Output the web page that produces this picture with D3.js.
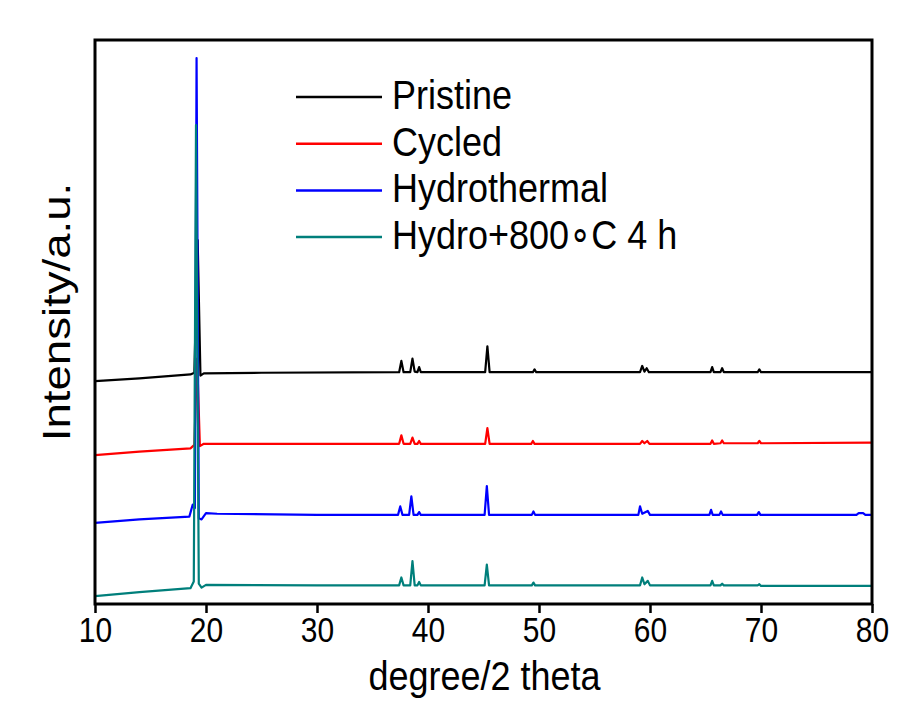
<!DOCTYPE html>
<html>
<head>
<meta charset="utf-8">
<script src="https://cdn.jsdelivr.net/npm/d3@7"></script>
<style>
  body { margin: 0; background: #fff; }
  text { font-family: "Liberation Sans", Arial, sans-serif; fill: #000; }
  .narrow { font-family: "Liberation Sans Narrow", "Arial Narrow", "Liberation Sans", sans-serif; }
</style>
</head>
<body>
<div id="chart"></div>
<script>
const width = 909;
const height = 703;
const margin = { top: 40, right: 37, bottom: 99, left: 95 };

const seriesNames = ["Pristine", "Cycled", "Hydrothermal", "Hydro+800\u2218C 4 h"];
const seriesColors = ["#000000", "#ff0000", "#0000ff", "#007f7b"];
const xTicks = [10, 20, 30, 40, 50, 60, 70, 80];

// [2theta, intensity (a.u., stacked offsets)]
const pristine = [
  [10, 39.5], [14, 40.0], [18.6, 40.7], [18.95, 41.0], [19.25, 64.5], [19.5, 40.5],
  [19.8, 40.9], [25, 41.0], [37.4, 41.1], [37.6, 43.1], [37.8, 41.1], [38.4, 41.1],
  [38.6, 43.5], [38.8, 41.2], [39.05, 41.1], [39.2, 42.0], [39.35, 41.1], [45.15, 41.1],
  [45.35, 45.7], [45.55, 41.1], [49.45, 41.1], [49.6, 41.6], [49.75, 41.1], [59.1, 41.1],
  [59.3, 42.2], [59.5, 41.2], [59.7, 41.8], [59.9, 41.1], [65.45, 41.1], [65.6, 42.0],
  [65.75, 41.1], [66.35, 41.1], [66.5, 41.8], [66.65, 41.1], [69.7, 41.1], [69.85, 41.6],
  [70.0, 41.1], [80, 41.1]
];
const cycled = [
  [10, 26.4], [14, 27.0], [18.6, 27.6], [18.95, 28.2], [19.2, 43.5], [19.45, 28.0],
  [19.8, 28.4], [25, 28.4], [37.4, 28.4], [37.6, 29.9], [37.8, 28.4], [38.4, 28.4],
  [38.6, 29.5], [38.8, 28.4], [39.05, 28.4], [39.2, 28.9], [39.35, 28.4], [45.15, 28.4],
  [45.35, 31.2], [45.55, 28.4], [49.3, 28.4], [49.45, 28.9], [49.6, 28.4], [59.1, 28.4],
  [59.3, 28.9], [59.5, 28.5], [59.75, 28.9], [59.95, 28.4], [65.45, 28.4], [65.6, 29.0],
  [65.75, 28.4], [66.35, 28.5], [66.5, 29.0], [66.65, 28.5], [69.7, 28.5], [69.85, 28.9],
  [70.0, 28.5], [80, 28.6]
];
const hydrothermal = [
  [10, 14.4], [14, 15.0], [18.5, 15.5], [18.8, 17.6], [19.0, 17.0], [19.15, 96.8],
  [19.35, 15.2], [19.6, 15.0], [20.0, 16.1], [21, 16.0], [30, 15.8], [37.3, 15.8],
  [37.5, 17.3], [37.7, 15.8], [38.3, 15.8], [38.5, 19.1], [38.7, 15.8], [39.05, 15.8],
  [39.2, 16.3], [39.35, 15.8], [45.1, 15.8], [45.3, 20.9], [45.5, 15.8], [49.35, 15.8],
  [49.5, 16.4], [49.65, 15.8], [58.95, 15.8], [59.1, 17.3], [59.3, 16.0], [59.8, 16.5],
  [60.0, 15.8], [65.35, 15.8], [65.5, 16.7], [65.65, 15.8], [66.25, 15.8], [66.4, 16.4],
  [66.55, 15.8], [69.65, 15.8], [69.8, 16.3], [69.95, 15.8], [78.6, 15.8], [78.8, 16.1],
  [79.2, 16.1], [79.4, 15.8], [80, 15.8]
];
const hydro800 = [
  [10, 1.4], [14, 2.1], [18.6, 2.8], [18.9, 4.0], [19.1, 84.9], [19.35, 3.6],
  [19.6, 2.9], [20, 3.4], [30, 3.3], [37.4, 3.3], [37.6, 4.7], [37.8, 3.3],
  [38.4, 3.3], [38.6, 7.6], [38.8, 3.3], [39.05, 3.3], [39.2, 3.9], [39.35, 3.3],
  [45.1, 3.3], [45.3, 7.0], [45.5, 3.3], [49.35, 3.3], [49.5, 3.8], [49.65, 3.3],
  [59.1, 3.3], [59.3, 4.7], [59.5, 3.5], [59.8, 4.1], [60.0, 3.3], [65.45, 3.3],
  [65.6, 4.1], [65.75, 3.3], [66.35, 3.3], [66.5, 3.6], [66.65, 3.3], [69.7, 3.3],
  [69.85, 3.5], [70.0, 3.2], [80, 3.2]
];

const allSeries = [pristine, cycled, hydrothermal, hydro800];
const stretch = 1.15; // text in the picture looks a bit tall

const svg = d3
  .select("#chart")
  .append("svg")
  .attr("width", width)
  .attr("height", height);

const x = d3.scaleLinear().domain([10, 80]).range([margin.left, width - margin.right]);
const y = d3.scaleLinear().domain([0, 100]).range([height - margin.bottom, margin.top]);

const line = d3
  .line()
  .x((d) => x(d[0]))
  .y((d) => y(d[1]));

svg
  .append("defs")
  .append("clipPath")
  .attr("id", "plot")
  .append("rect")
  .attr("x", margin.left)
  .attr("y", margin.top)
  .attr("width", width - margin.left - margin.right)
  .attr("height", height - margin.top - margin.bottom);

svg
  .append("g")
  .attr("clip-path", "url(#plot)")
  .selectAll("path")
  .data(allSeries)
  .enter()
  .append("path")
  .attr("d", line)
  .attr("fill", "none")
  .attr("stroke", (d, i) => seriesColors[i])
  .attr("stroke-width", 2.2)
  .attr("stroke-linejoin", "round");

// bottom axis
const xAxis = svg
  .append("g")
  .attr("transform", `translate(0,${height - margin.bottom})`)
  .call(d3.axisBottom(x).tickValues(xTicks).tickSize(9).tickSizeOuter(0).tickPadding(6));

xAxis.select(".domain").remove();
xAxis.selectAll(".tick line").attr("stroke", "#000").attr("stroke-width", 2.5);
xAxis
  .selectAll(".tick text")
  .attr("class", "narrow")
  .attr("font-size", 30)
  .attr("dy", null)
  .attr("y", 0)
  .attr("transform", `translate(0,38) scale(1,${stretch})`);

// frame
svg
  .append("rect")
  .attr("x", margin.left)
  .attr("y", margin.top)
  .attr("width", width - margin.left - margin.right)
  .attr("height", height - margin.top - margin.bottom)
  .attr("fill", "none")
  .attr("stroke", "#000")
  .attr("stroke-width", 3);

// axis titles
svg
  .append("text")
  .attr("text-anchor", "middle")
  .attr("font-size", 36)
  .attr("transform", `translate(${(margin.left + width - margin.right) / 2 + 1},690) scale(1,${stretch})`)
  .text("degree/2 theta");

svg
  .append("text")
  .attr("text-anchor", "middle")
  .attr("font-size", 38)
  .attr("transform", `translate(70,${(margin.top + height - margin.bottom) / 2 - 10}) scale(1,1.2) rotate(-90)`)
  .text("Intensity/a.u.");

// legend
const legend = svg
  .selectAll(".legend")
  .data(seriesNames)
  .enter()
  .append("g")
  .attr("class", "legend")
  .attr("transform", (d, i) => `translate(296,${97 + i * 46.7})`);

legend
  .append("line")
  .attr("x1", 0)
  .attr("x2", 86)
  .attr("stroke", (d, i) => seriesColors[i])
  .attr("stroke-width", 2.5);

legend
  .append("text")
  .attr("font-size", 36)
  .attr("transform", `translate(96,12) scale(1,${stretch})`)
  .text((d) => d);
</script>
</body>
</html>
